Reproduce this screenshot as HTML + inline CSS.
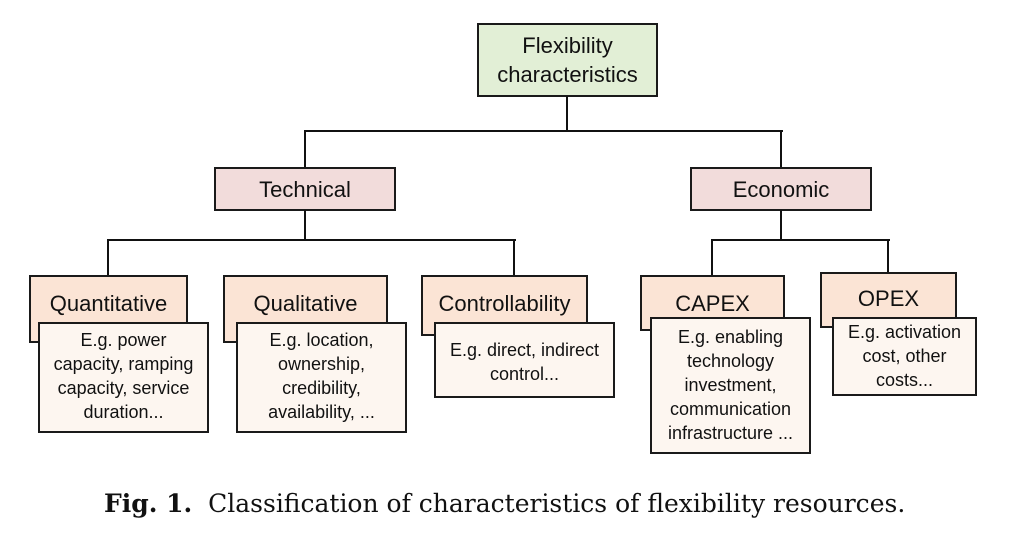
<!DOCTYPE html>
<html><head><meta charset="utf-8"><style>
body{margin:0;width:1035px;height:534px;background:#fff;position:relative;overflow:hidden;font-family:"Liberation Sans",sans-serif}
.b{position:absolute;box-sizing:border-box;border:2px solid #1a1a1a;text-align:center;color:#111;white-space:nowrap}
.h{background:#fbe4d5;font-size:22px;padding-top:14px}
.d{background:#fdf6f0;font-size:18px;line-height:24px;padding-top:4px}
.l{position:absolute;background:#111}
</style></head><body>
<div class="b" style="left:477px;top:23px;width:181px;height:74px;background:#e2efd6;font-size:22px;line-height:29px;padding-top:6px">Flexibility<br>characteristics</div>
<div class="l" style="left:566px;top:96px;width:2px;height:36px"></div>
<div class="l" style="left:304px;top:130px;width:479px;height:2px"></div>
<div class="l" style="left:304px;top:130px;width:2px;height:38px"></div>
<div class="l" style="left:780px;top:130px;width:2px;height:38px"></div>
<div class="b" style="left:214px;top:167px;width:182px;height:44px;background:#f2dcdb;font-size:22px;padding-top:8px">Technical</div>
<div class="b" style="left:690px;top:167px;width:182px;height:44px;background:#f2dcdb;font-size:22px;padding-top:8px">Economic</div>
<div class="l" style="left:304px;top:210px;width:2px;height:31px"></div>
<div class="l" style="left:107px;top:239px;width:409px;height:2px"></div>
<div class="l" style="left:107px;top:239px;width:2px;height:37px"></div>
<div class="l" style="left:513px;top:239px;width:2px;height:37px"></div>
<div class="l" style="left:780px;top:210px;width:2px;height:31px"></div>
<div class="l" style="left:711px;top:239px;width:179px;height:2px"></div>
<div class="l" style="left:711px;top:239px;width:2px;height:37px"></div>
<div class="l" style="left:887px;top:239px;width:2px;height:34px"></div>
<div class="b h" style="left:29px;top:275px;width:159px;height:68px">Quantitative</div>
<div class="b d" style="left:38px;top:322px;width:171px;height:111px">E.g. power<br>capacity, ramping<br>capacity, service<br>duration...</div>
<div class="b h" style="left:223px;top:275px;width:165px;height:68px">Qualitative</div>
<div class="b d" style="left:236px;top:322px;width:171px;height:111px">E.g. location,<br>ownership,<br>credibility,<br>availability, ...</div>
<div class="b h" style="left:421px;top:275px;width:167px;height:61px">Controllability</div>
<div class="b d" style="left:434px;top:322px;width:181px;height:76px;padding-top:14px">E.g. direct, indirect<br>control...</div>
<div class="b h" style="left:640px;top:275px;width:145px;height:56px">CAPEX</div>
<div class="b d" style="left:650px;top:317px;width:161px;height:137px;padding-top:6px">E.g. enabling<br>technology<br>investment,<br>communication<br>infrastructure ...</div>
<div class="b h" style="left:820px;top:272px;width:137px;height:56px;padding-top:12px">OPEX</div>
<div class="b d" style="left:832px;top:317px;width:145px;height:79px;padding-top:1px">E.g. activation<br>cost, other<br>costs...</div>
<div style="position:absolute;left:104px;top:489px;white-space:nowrap;font-family:'DejaVu Serif',serif;font-size:25px;color:#111"><b>Fig. 1.</b>&nbsp; Classification of characteristics of flexibility resources.</div>
</body></html>
